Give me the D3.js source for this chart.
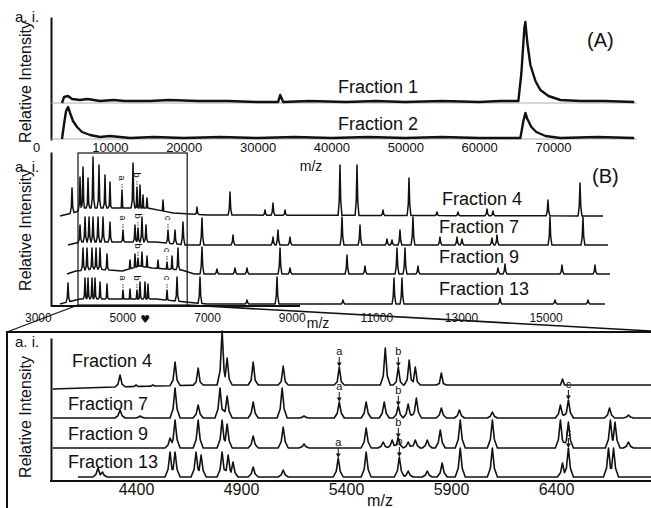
<!DOCTYPE html>
<html>
<head>
<meta charset="utf-8">
<script src="https://cdn.jsdelivr.net/npm/d3@7/dist/d3.min.js"></script>
<style>
  body { margin: 0; background: #fff; }
  svg { display: block; }
  text { font-family: 'Liberation Sans', Arial, Helvetica, sans-serif; fill: #111; }
</style>
</head>
<body>
<svg id="chart" width="651" height="508"></svg>
<script>
// ---------- panel A (full range) ----------
const aTicks = [0, 10000, 20000, 30000, 40000, 50000, 60000, 70000];
const aNames = ["Fraction 1", "Fraction 2"];
const aBase = [37, 1];
// [m/z, intensity above own baseline]
const aFrac1 = [[3520,0],[3800,6],[4340,7],[4880,4],[5960,3],[7000,4],[8670,2],[10500,3],[12000,2],[15450,2],[18000,3],[22000,2],[26000,2],[30000,1],[32790,1],[33060,8],[33470,1],[37000,2],[42000,1],[46000,2],[50000,1],[55000,2],[60000,1],[62870,2],[65310,2],[65720,30],[66120,75],[66260,81],[66530,60],[66940,38],[67620,22],[68290,13],[69380,7],[71000,3],[73710,2],[77000,2],[81000,1]];
const aFrac2 = [[3520,0],[3800,15],[4070,28],[4340,32],[4610,26],[5010,18],[5560,12],[6230,7],[7320,4],[8670,2],[10000,3],[12740,1],[16000,2],[20000,1],[25000,2],[30000,1],[35000,2],[40000,1],[45000,2],[50000,1],[55000,2],[60000,1],[65580,1],[65990,18],[66260,26],[66530,20],[67070,12],[67750,7],[68970,3],[71000,1],[76000,2],[81000,1]];

// ---------- panel B (3000-16500) ----------
const bTicks = [3000, 5000, 7000, 9000, 11000, 13000, 15000];
const bNames = ["Fraction 4", "Fraction 7", "Fraction 9", "Fraction 13"];
const bBase = [90, 61, 32, 2];
const bRanges = [[3525,16356],[3714,16474],[3690,16521],[3525,16403]];
// [m/z, height]
const bPeaks4 = [[3809,28],[3998,39],[4068,49],[4187,38],[4305,59],[4446,51],[4588,41],[4706,34],[4990,26],[5250,53],[5344,29],[5415,31],[5486,21],[5581,18],[5959,16],[6762,9],[7542,24],[8369,6],[8558,13],[8842,6],[10141,51],[10543,51],[11157,6],[11772,38],[12433,4],[12930,4],[13615,7],[13757,5],[15056,16],[15813,33]];
const bPeaks7 = [[3998,20],[4116,28],[4211,28],[4305,28],[4423,28],[4541,28],[4706,23],[5013,15],[5297,20],[5368,17],[5462,28],[5557,20],[6077,15],[6242,15],[6431,23],[6880,27],[7613,10],[8558,8],[8676,15],[8960,8],[10189,28],[10614,20],[11252,6],[11370,5],[11559,15],[11866,28],[12504,8],[12906,8],[13024,6],[13733,7],[13851,10],[15103,28],[15883,28]];
const bPeaks9 = [[4068,26],[4163,26],[4281,26],[4376,26],[4470,26],[4636,20],[5179,14],[5297,20],[5368,16],[5462,22],[5581,18],[5841,14],[6054,12],[6172,18],[6313,26],[6880,27],[7234,5],[7660,6],[7944,6],[8724,26],[8960,6],[10307,19],[10732,8],[11488,26],[11677,26],[11984,8],[13875,6],[14040,10],[15387,9],[16167,9]];
const bPeaks13 = [[3714,21],[4116,26],[4187,26],[4281,26],[4352,26],[4470,22],[4636,20],[5013,14],[5179,15],[5344,14],[5415,22],[5533,22],[5604,20],[6054,14],[6290,27],[6833,27],[7944,4],[8653,27],[10212,4],[11417,26],[11606,26],[13922,6],[15222,4],[16001,4]];
const bDrift = [
  [[3525,0],[3900,4],[4100,8],[5600,8],[6200,3],[7000,1],[16356,0]],
  [[3714,0],[4000,3],[5800,3],[6500,0],[16474,0]],
  [[3690,0],[3900,3],[4300,5],[5000,3],[5400,8],[5700,6],[6400,4],[6700,0],[16521,0]],
  [[3525,0],[3700,2],[4000,5],[5800,5],[6500,2],[7000,0],[16403,0]]
];
const bLetters = [[0,"a",4990],[0,"b",5344],[1,"a",5013],[1,"b",5368],[1,"c",6077],[2,"b",5368],[2,"c",6054],[3,"a",5013],[3,"b",5344],[3,"c",6054]];
const zoomRange = [3950, 6530];
const markerMz = 5540;

// ---------- panel C (4000-6850) ----------
const cTicks = [4400, 4900, 5400, 5900, 6400];
const cNames = ["Fraction 4", "Fraction 7", "Fraction 9", "Fraction 13"];
const cBase = [93, 63, 33, 4];
const cRanges = [[4004,6853],[4004,6853],[4004,6853],[4124,6853]];
const cPeaks4 = [[4324,13],[4400,3],[4480,3],[4586,26],[4696,20],[4810,57],[4834,30],[4958,26],[5101,22],[5200,3],[5300,2],[5368,21],[5587,40],[5649,21],[5701,28],[5730,21],[5854,15],[5950,3],[6100,2],[6300,2],[6431,9],[6600,2],[6700,2]];
const cPeaks7 = [[4324,8],[4420,2],[4586,30],[4696,13],[4800,30],[4834,22],[4958,16],[5096,30],[5200,2],[5368,16],[5496,16],[5582,16],[5649,12],[5696,14],[5735,20],[5854,10],[5940,8],[6097,6],[6421,13],[6459,18],[6655,10],[6745,3]];
const cPeaks9 = [[4562,10],[4586,28],[4696,28],[4810,28],[4834,24],[4958,12],[5101,21],[5200,4],[5496,20],[5577,6],[5620,8],[5649,10],[5696,6],[5730,8],[5787,8],[5849,18],[5944,28],[6097,28],[6421,28],[6459,26],[6659,28],[6681,26],[6745,6]];
const cPeaks13 = [[4219,9],[4240,5],[4562,25],[4586,25],[4686,25],[4710,22],[4810,25],[4839,22],[4862,15],[4958,10],[5101,7],[5363,19],[5496,25],[5654,20],[5696,6],[5787,6],[5858,14],[5944,29],[6097,29],[6431,14],[6459,29],[6650,29],[6674,29]];
const cDrift = [
  [[4004,-1],[4300,1],[4700,3],[6853,3]],
  [[4004,0],[6853,0]],
  [[4004,0],[6853,0]],
  [[4124,0],[6853,0]]
];
const cLetters = [[0,"a",5368],[0,"b",5649],[1,"a",5368],[1,"b",5649],[1,"c",6459],[2,"b",5649],[3,"a",5363],[3,"b",5654],[3,"c",6459]];

const font = "'Liberation Sans', Arial, Helvetica, sans-serif";
const svg = d3.select("#chart");
svg.append("rect").attr("width", 651).attr("height", 508).attr("fill", "#fff");

// builds the points of one trace out of its peak list
function traceValues(range, peaks, drift, w) {
  const knots = new Set([range[0], range[1]]);
  drift.forEach(d => knots.add(d[0]));
  peaks.forEach(p => [-1, -0.4, 0, 0.4, 1].forEach(f => knots.add(p[0] + f * w)));
  const xs = Array.from(knots).filter(m => m >= range[0] && m <= range[1]).sort((a, b) => a - b);
  const driftAt = d3.scaleLinear().domain(drift.map(d => d[0])).range(drift.map(d => d[1])).clamp(true);
  const shape = (p, m) => {
    const d = Math.abs(m - p[0]) / w;
    if (d >= 1) return -Infinity;
    return d <= 0.4 ? p[1] * (1 - (d / 0.4) * 0.7) : p[1] * 0.3 * (1 - d) / 0.6;
  };
  return xs.map(m => {
    let v = driftAt(m);
    peaks.forEach(p => { const s = shape(p, m); if (s > v) v = s; });
    return [m, v];
  });
}

function yAxisLine(scale, x) {
  svg.append("g").attr("transform", `translate(${x},0)`)
    .call(d3.axisLeft(scale).tickValues([]).tickSizeOuter(0))
    .select(".domain").attr("stroke", "#111").attr("stroke-width", 2);
}

function sideLabels(cy, aiY) {
  svg.append("text").attr("x", 15).attr("y", aiY).attr("font-size", 15).text("a. i.");
  svg.append("text").attr("transform", `translate(31,${cy}) rotate(-90)`)
    .attr("text-anchor", "middle").attr("font-size", 16).text("Relative Intensity");
}

function bottomAxis(scale, ticks, y, size, pad) {
  const g = svg.append("g").attr("transform", `translate(0,${y})`)
    .call(d3.axisBottom(scale).tickValues(ticks).tickSize(0).tickPadding(pad).tickFormat(d3.format("d")));
  g.select(".domain").remove();
  g.attr("font-size", size).attr("font-family", font);
  g.selectAll("text").attr("fill", "#111");
}

// ================= A =================
const xA = d3.scaleLinear().domain([0, 70000]).range([36, 553]);
const yA = d3.scaleLinear().domain([0, 123]).range([140, 17]);
yAxisLine(yA, 51);
sideLabels(82, 22);
aBase.forEach(b => {
  svg.append("line").attr("x1", 51).attr("x2", xA(81300)).attr("y1", yA(b)).attr("y2", yA(b))
    .attr("stroke", "#999").attr("stroke-width", 0.8);
});
[aFrac1, aFrac2].forEach((prof, i) => {
  svg.append("path").datum(prof)
    .attr("fill", "none").attr("stroke", "#111").attr("stroke-width", 2.4).attr("stroke-linejoin", "round")
    .attr("d", d3.line().x(d => xA(d[0])).y(d => yA(aBase[i] + d[1])));
});
svg.append("text").attr("x", 378).attr("y", 93).attr("text-anchor", "middle").attr("font-size", 18).text(aNames[0]);
svg.append("text").attr("x", 378).attr("y", 130).attr("text-anchor", "middle").attr("font-size", 18).text(aNames[1]);
svg.append("text").attr("x", 587).attr("y", 47).attr("font-size", 20).text("(A)");
bottomAxis(xA, aTicks, 140, 13, 3);
svg.append("text").attr("x", 311).attr("y", 171).attr("text-anchor", "middle").attr("font-size", 14).text("m/z");

// ================= B =================
const xB = d3.scaleLinear().domain([3000, 15000]).range([37.8, 545.6]);
const yB = d3.scaleLinear().domain([0, 154]).range([306, 152]);
yAxisLine(yB, 51);
sideLabels(230, 172);
const bPeaks = [bPeaks4, bPeaks7, bPeaks9, bPeaks13];
bPeaks.forEach((peaks, i) => {
  const vals = traceValues(bRanges[i], peaks, bDrift[i], 45);
  svg.append("path").datum(vals)
    .attr("fill", "none").attr("stroke", "#111").attr("stroke-width", 1.5).attr("stroke-linejoin", "round")
    .attr("d", d3.line().x(d => xB(d[0])).y(d => yB(bBase[i] + d[1])));
});
bLetters.forEach(([f, letter, mz]) => {
  const p = bPeaks[f].find(q => q[0] === mz);
  const top = yB(bBase[f] + p[1]);
  svg.append("line").attr("x1", xB(mz)).attr("x2", xB(mz)).attr("y1", top - 6).attr("y2", top - 1)
    .attr("stroke", "#111").attr("stroke-width", 0.8).attr("stroke-dasharray", "1.5,1");
  svg.append("text").attr("transform", `translate(${xB(mz) - 3},${top - 12}) rotate(90)`)
    .attr("text-anchor", "middle").attr("font-size", 9)
    .text(letter);
});
const bLabelY = [205, 233, 263, 295];
bNames.forEach((n, i) => {
  svg.append("text").attr("x", i === 0 ? 442 : 439).attr("y", bLabelY[i]).attr("font-size", 18).text(n);
});
svg.append("text").attr("x", 592).attr("y", 183).attr("font-size", 20).text("(B)");
// zoom box
svg.append("rect").attr("x", xB(zoomRange[0])).attr("y", yB(153))
  .attr("width", xB(zoomRange[1]) - xB(zoomRange[0])).attr("height", yB(1) - yB(153))
  .attr("fill", "none").attr("stroke", "#111").attr("stroke-width", 1.2);
svg.append("line").attr("x1", 51).attr("x2", 300).attr("y1", yB(0)).attr("y2", yB(0))
  .attr("stroke", "#111").attr("stroke-width", 2);
bottomAxis(xB, bTicks, 306, 12, 7);
svg.append("text").attr("x", xB(markerMz)).attr("y", 323).attr("text-anchor", "middle")
  .attr("font-size", 11).style("font-family", "'DejaVu Sans'").text("\u2665");
svg.append("text").attr("x", 318).attr("y", 328).attr("text-anchor", "middle").attr("font-size", 14).text("m/z");

// ================= C =================
const xC = d3.scaleLinear().domain([4400, 6400]).range([136, 556]);
const yC = d3.scaleLinear().domain([0, 150]).range([481, 331]);
// zoom lines and frame
svg.append("line").attr("x1", xB(zoomRange[0])).attr("y1", 305).attr("x2", 7).attr("y2", 332)
  .attr("stroke", "#111").attr("stroke-width", 1.3);
svg.append("line").attr("x1", xB(zoomRange[1])).attr("y1", 305).attr("x2", 651).attr("y2", 331)
  .attr("stroke", "#111").attr("stroke-width", 1.6);
svg.append("rect").attr("x", 7).attr("y", 332).attr("width", 700).attr("height", 200)
  .attr("fill", "none").attr("stroke", "#111").attr("stroke-width", 2);
yAxisLine(d3.scaleLinear().domain([0, 143]).range([481, 338]), 51);
svg.append("line").attr("x1", 50).attr("x2", 651).attr("y1", yC(0)).attr("y2", yC(0))
  .attr("stroke", "#111").attr("stroke-width", 2);
sideLabels(417, 347);
const cPeaks = [cPeaks4, cPeaks7, cPeaks9, cPeaks13];
cPeaks.forEach((peaks, i) => {
  const vals = traceValues(cRanges[i], peaks, cDrift[i], 24);
  svg.append("path").datum(vals)
    .attr("fill", "none").attr("stroke", "#111").attr("stroke-width", 1.6).attr("stroke-linejoin", "round")
    .attr("d", d3.line().x(d => xC(d[0])).y(d => yC(cBase[i] + d[1])));
});
cLetters.forEach(([f, letter, mz]) => {
  const p = cPeaks[f].find(q => q[0] === mz);
  const top = yC(cBase[f] + p[1]);
  svg.append("line").attr("x1", xC(mz)).attr("x2", xC(mz)).attr("y1", top - 10).attr("y2", top - 2)
    .attr("stroke", "#111").attr("stroke-width", 1);
  svg.append("path").attr("d", d3.symbol(d3.symbolTriangle, 10)())
    .attr("transform", `translate(${xC(mz)},${top - 3}) rotate(180)`).attr("fill", "#111");
  svg.append("text").attr("x", xC(mz)).attr("y", top - 12).attr("text-anchor", "middle")
    .attr("font-size", 11).text(letter);
});
const cLabelX = [72, 68, 68, 68];
const cLabelY = [367, 410, 440, 468];
cNames.forEach((n, i) => {
  svg.append("text").attr("x", cLabelX[i]).attr("y", cLabelY[i]).attr("font-size", 18).text(n);
});
bottomAxis(xC, cTicks, 481, 16, 3);
svg.append("text").attr("x", 380).attr("y", 506).attr("text-anchor", "middle").attr("font-size", 16).text("m/z");
</script>
</body>
</html>
